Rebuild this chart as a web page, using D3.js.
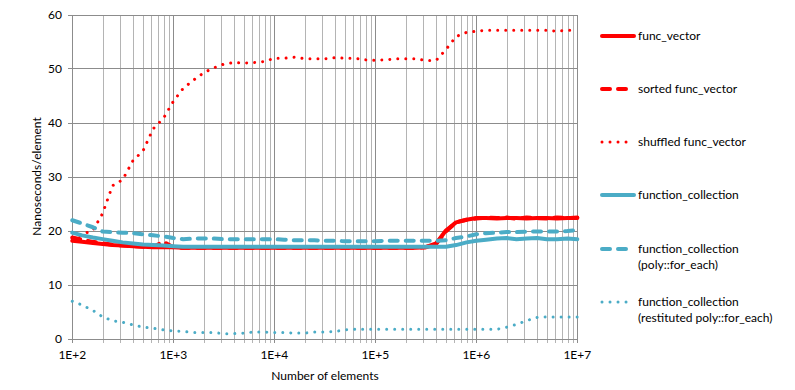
<!DOCTYPE html>
<html>
<head>
<meta charset="utf-8">
<script src="https://cdn.jsdelivr.net/npm/d3@7"></script>
<style>
  body { margin: 0; background: #fff; }
  text { font-family: Lato, "Open Sans", sans-serif; fill: #000; }
</style>
</head>
<body>
<svg width="795" height="390"></svg>
<script>
// number of elements (x axis, log scale)
var sizes = [100, 125, 160, 200, 250, 315, 400, 500, 630, 800,
  1000, 1250, 1600, 2000, 2500, 3150, 4000, 5000, 6300, 8000,
  10000, 12500, 16000, 20000, 25000, 31500, 40000, 50000, 63000, 80000,
  100000, 125000, 160000, 200000, 250000, 315000, 400000, 500000, 630000, 800000,
  1000000, 1250000, 1600000, 2000000, 2500000, 3150000, 4000000, 5000000, 6300000, 8000000,
  10000000];

// nanoseconds per element
var funcVector = [18.1, 17.9, 17.7, 17.5, 17.3, 17.2, 17.1, 17.0, 16.9, 16.9,
  16.9, 16.8, 16.8, 16.8, 16.8, 16.8, 16.8, 16.8, 16.8, 16.8,
  16.8, 16.8, 16.8, 16.8, 16.8, 16.8, 16.8, 16.8, 16.8, 16.8,
  16.8, 16.8, 16.8, 16.8, 16.8, 16.9, 17.6, 20.0, 21.5, 22.0,
  22.3, 22.3, 22.2, 22.3, 22.3, 22.2, 22.3, 22.3, 22.2, 22.3,
  22.3];

var sortedFuncVector = [18.7, 18.3, 17.9, 17.6, 17.4, 17.2, 17.1, 17.0, 17.0, 17.9,
  16.9, 16.8, 16.8, 16.8, 16.8, 16.8, 16.8, 16.8, 16.8, 16.8,
  16.8, 16.8, 16.8, 16.8, 16.8, 16.8, 16.8, 16.8, 16.8, 16.8,
  16.8, 16.8, 16.8, 16.8, 16.8, 16.9, 17.5, 19.8, 21.5, 22.0,
  22.2, 22.4, 22.3, 22.4, 22.2, 22.4, 22.3, 22.2, 22.4, 22.3,
  22.4];

var shuffledFuncVector = [18.5, 19.3, 20.0, 23.2, 28.3, 29.4, 33.0, 34.7, 38.8, 40.8,
  43.9, 46.3, 47.9, 49.2, 50.1, 50.8, 51.1, 51.0, 51.1, 51.3,
  51.9, 51.9, 52.1, 51.8, 51.8, 51.8, 52.0, 51.9, 51.9, 51.6,
  51.5, 51.6, 51.8, 51.8, 51.8, 51.5, 51.5, 53.5, 55.9, 56.7,
  56.9, 57.1, 57.1, 57.1, 57.1, 57.1, 57.1, 57.1, 56.9, 57.1,
  57.1];

var functionCollection = [19.6, 19.1, 18.7, 18.4, 18.1, 17.8, 17.6, 17.4, 17.3, 17.2,
  17.1, 17.0, 17.0, 17.0, 17.0, 17.0, 17.0, 17.0, 17.0, 17.0,
  17.0, 17.0, 17.0, 17.0, 17.0, 17.0, 17.0, 17.0, 17.0, 17.0,
  17.0, 17.0, 17.0, 17.0, 17.0, 17.0, 17.0, 17.0, 17.3, 17.8,
  18.1, 18.3, 18.5, 18.6, 18.4, 18.5, 18.6, 18.4, 18.4, 18.5,
  18.4];

var polyForEach = [21.9, 21.3, 20.6, 19.8, 19.7, 19.6, 19.5, 19.3, 19.1, 18.9,
  18.6, 18.4, 18.5, 18.5, 18.5, 18.4, 18.4, 18.4, 18.4, 18.4,
  18.4, 18.3, 18.2, 18.2, 18.2, 18.1, 18.1, 18.0, 18.0, 18.0,
  18.0, 18.1, 18.1, 18.1, 18.1, 18.1, 18.1, 18.2, 18.6, 18.9,
  19.3, 19.5, 19.6, 19.7, 19.7, 19.8, 19.8, 19.8, 19.8, 19.9,
  20.1];

var restitutedPolyForEach = [6.9, 6.2, 5.2, 4.0, 3.3, 3.0, 2.5, 2.1, 1.9, 1.6,
  1.4, 1.3, 1.1, 1.1, 1.1, 0.9, 0.9, 1.0, 1.2, 1.2,
  1.1, 1.1, 1.0, 1.0, 1.2, 1.2, 1.3, 1.6, 1.7, 1.7,
  1.7, 1.7, 1.7, 1.7, 1.7, 1.7, 1.7, 1.7, 1.7, 1.7,
  1.7, 1.7, 1.7, 2.1, 2.6, 3.3, 3.9, 4.0, 4.0, 4.0,
  4.0];

var yTicks = [0, 10, 20, 30, 40, 50, 60];
var xDecades = [100, 1000, 10000, 100000, 1000000, 10000000];
var xTickLabels = ["1E+2", "1E+3", "1E+4", "1E+5", "1E+6", "1E+7"];

var red = "#ff0000", teal = "#4bacc6";

var series = [
  {name: ["func_vector"], values: funcVector, color: red, dash: null, width: 4},
  {name: ["sorted func_vector"], values: sortedFuncVector, color: red, dash: "8,8", width: 4},
  {name: ["shuffled func_vector"], values: shuffledFuncVector, color: red, dash: "0.01,8", width: 3},
  {name: ["function_collection"], values: functionCollection, color: teal, dash: null, width: 4},
  {name: ["function_collection", "(poly::for_each)"], values: polyForEach, color: teal, dash: "8,8", width: 4},
  {name: ["function_collection", "(restituted poly::for_each)"], values: restitutedPolyForEach, color: teal, dash: "0.01,8", width: 3}
];

var svg = d3.select("svg");

var x = d3.scaleLog().domain([100, 10000000]).range([72.3, 577.3]);
var y = d3.scaleLinear().domain([0, 60]).range([338.5, 14.5]);

// minor x values: 2..9 of each decade
var minor = [];
xDecades.slice(0, -1).forEach(function(d) {
  for (var m = 2; m <= 9; ++m) minor.push(d * m);
});

var grid = svg.append("g").attr("shape-rendering", "crispEdges");

grid.selectAll("line.minor")
    .data(minor)
  .enter().append("line")
    .attr("class", "minor")
    .attr("x1", function(d) { return Math.round(x(d)) + 0.5; })
    .attr("x2", function(d) { return Math.round(x(d)) + 0.5; })
    .attr("y1", y(60)).attr("y2", y(0) + 4)
    .style("stroke", "#b4b4b4");

grid.selectAll("line.hgrid")
    .data(yTicks)
  .enter().append("line")
    .attr("class", "hgrid")
    .attr("x1", x(100) - 4).attr("x2", x(10000000))
    .attr("y1", function(d) { return Math.round(y(d)) + 0.5; })
    .attr("y2", function(d) { return Math.round(y(d)) + 0.5; })
    .style("stroke", "#8c8c8c");

grid.selectAll("line.major")
    .data(xDecades)
  .enter().append("line")
    .attr("class", "major")
    .attr("x1", function(d) { return Math.round(x(d)) + 0.5; })
    .attr("x2", function(d) { return Math.round(x(d)) + 0.5; })
    .attr("y1", y(60)).attr("y2", y(0) + 4)
    .style("stroke", "#8c8c8c");

// tick labels
svg.append("g").selectAll("text")
    .data(yTicks)
  .enter().append("text")
    .attr("x", 62)
    .attr("y", function(d) { return y(d) + 4.5; })
    .style("text-anchor", "end")
    .style("font-size", "12px")
    .text(function(d) { return d; });

svg.append("g").selectAll("text")
    .data(xDecades)
  .enter().append("text")
    .attr("x", function(d) { return x(d); })
    .attr("y", 359)
    .style("text-anchor", "middle")
    .style("font-size", "12px")
    .text(function(d, i) { return xTickLabels[i]; });

svg.append("text")
    .attr("x", 325).attr("y", 380)
    .style("text-anchor", "middle")
    .style("font-size", "12px")
    .text("Number  of elements");

svg.append("text")
    .attr("transform", "translate(41," + y(30) + ") rotate(-90)")
    .style("text-anchor", "middle")
    .style("font-size", "12px")
    .text("Nanoseconds/element");

// series lines
var line = d3.line()
    .x(function(d, i) { return x(sizes[i]); })
    .y(function(d) { return y(d); });

svg.append("g").selectAll("path")
    .data(series)
  .enter().append("path")
    .attr("d", function(s) { return line(s.values); })
    .style("fill", "none")
    .style("stroke", function(s) { return s.color; })
    .style("stroke-width", function(s) { return s.width; })
    .style("stroke-dasharray", function(s) { return s.dash; })
    .style("stroke-linecap", "round")
    .style("stroke-linejoin", "round");

// legend
var legendY = [36, 89, 142, 195, 249, 302];

var legend = svg.append("g").selectAll("g")
    .data(series)
  .enter().append("g")
    .attr("transform", function(d, i) { return "translate(0," + legendY[i] + ")"; });

legend.append("line")
    .attr("x1", 602).attr("x2", 634)
    .attr("y1", 0).attr("y2", 0)
    .style("stroke", function(s) { return s.color; })
    .style("stroke-width", function(s) { return s.width; })
    .style("stroke-dasharray", function(s) { return s.dash; })
    .style("stroke-linecap", "round");

legend.append("text")
    .attr("x", 638)
    .attr("y", 4)
    .style("font-size", "12px")
    .selectAll("tspan")
    .data(function(s) { return s.name; })
  .enter().append("tspan")
    .attr("x", 638)
    .attr("dy", function(d, i) { return i ? 16 : 0; })
    .text(function(d) { return d; });
</script>
</body>
</html>
